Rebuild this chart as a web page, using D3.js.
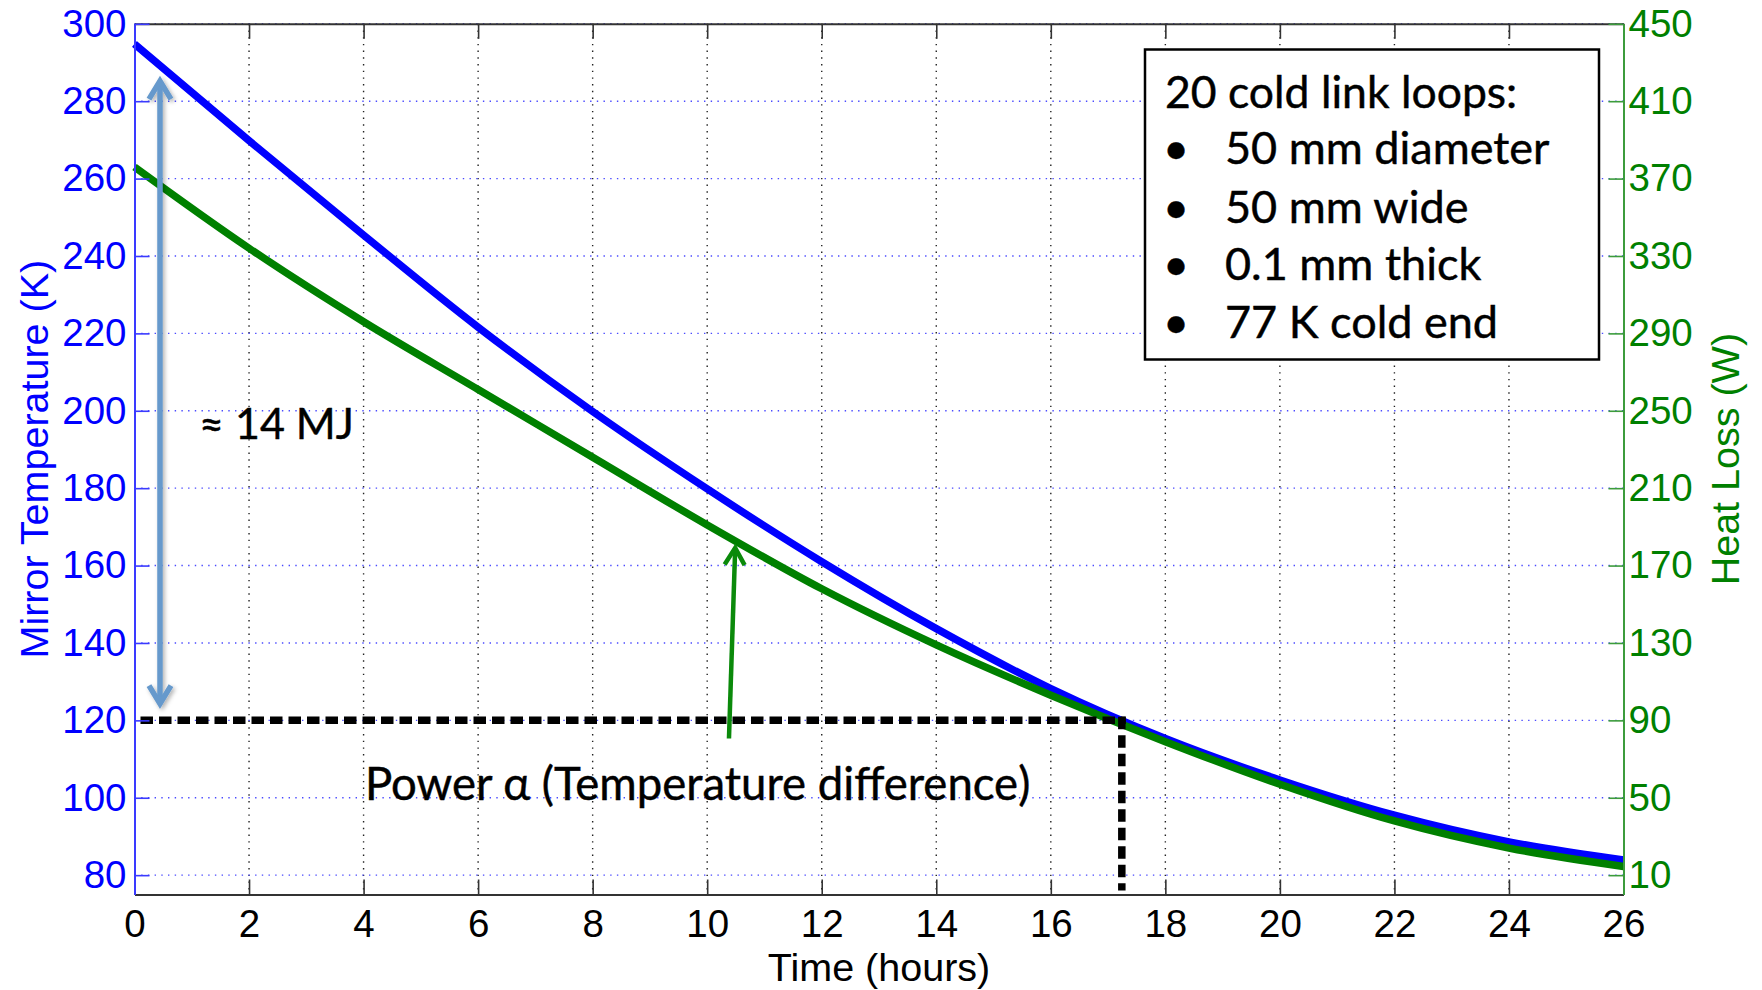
<!DOCTYPE html>
<html><head><meta charset="utf-8">
<script src="https://cdn.jsdelivr.net/npm/d3@7"></script>
<style>body{margin:0;background:#fff;} svg{display:block}</style>
</head><body>
<svg id="chart" width="1762" height="990"></svg>
<script>
// ---- data ----
const hours      = [0, 2, 4, 6, 8, 10, 12, 14, 16, 18, 20, 22, 24, 26];
const mirrorTemp = [294.8, 269.8, 245.4, 221.6, 199.8, 179.8, 161.0, 143.7, 128.2, 115.3, 104.6, 95.5, 88.6, 83.9];
const heatLoss   = [376, 334, 296, 261, 226, 191, 158, 129, 103, 79, 57, 38, 24, 14.5];
const xTicks     = [0, 2, 4, 6, 8, 10, 12, 14, 16, 18, 20, 22, 24, 26];
const leftTicks  = [80, 100, 120, 140, 160, 180, 200, 220, 240, 260, 280, 300];
const rightTicks = [10, 50, 90, 130, 170, 210, 250, 290, 330, 370, 410, 450];
const legendLines = ["20 cold link loops:", "50 mm diameter", "50 mm wide", "0.1 mm thick", "77 K cold end"];
const thresholdTime = 17.24, thresholdTemp = 120;
const energyLabel = "\u2248 14 MJ";
const powerLabel = "Power \u03b1 (Temperature difference)";

// ---- layout ----
const svg = d3.select("#chart");
const X0 = 134.5, X1 = 1623.5, Y0 = 23.8, Y1 = 894.5;
const x  = d3.scaleLinear([0, 26], [X0, X1]);
const yL = d3.scaleLinear([75, 300], [Y1, Y0]);
const yR = d3.scaleLinear([0, 450], [Y1, Y0]);

const BLUE = "#0000ff", GREEN = "#008000";
const axisFont = "'Liberation Sans', Arial, Helvetica, sans-serif";
const noteFont = "Lato, 'Open Sans', sans-serif";

const defs = svg.append("defs");
const f = defs.append("filter").attr("id", "shadow").attr("x", "-50%").attr("y", "-10%").attr("width", "200%").attr("height", "120%");
f.append("feDropShadow").attr("dx", 2).attr("dy", 2).attr("stdDeviation", 2).attr("flood-color", "#000").attr("flood-opacity", 0.3);

// grid
const grid = svg.append("g");
grid.selectAll("line.v").data(xTicks.filter(d => d > 0 && d < 26)).join("line")
  .attr("x1", d => x(d)).attr("x2", d => x(d)).attr("y1", Y0).attr("y2", Y1)
  .attr("stroke", "#222").attr("stroke-width", 1.4).attr("stroke-dasharray", "1.4,5.3");
grid.selectAll("line.h").data(leftTicks).join("line")
  .attr("x1", X0).attr("x2", X1).attr("y1", d => yL(d)).attr("y2", d => yL(d))
  .attr("stroke", "#4a4aff").attr("stroke-width", 1.4).attr("stroke-dasharray", "1.4,5.3");

// curves
const lineT = d3.line().x((d, i) => x(hours[i])).y(d => yL(d)).curve(d3.curveMonotoneX);
const lineQ = d3.line().x((d, i) => x(hours[i])).y(d => yR(d)).curve(d3.curveMonotoneX);
svg.append("path").attr("d", lineT(mirrorTemp)).attr("fill", "none").attr("stroke", BLUE).attr("stroke-width", 7.5);
svg.append("path").attr("d", lineQ(heatLoss)).attr("fill", "none").attr("stroke", GREEN).attr("stroke-width", 7.5);

// dashed threshold lines
svg.append("line").attr("x1", x(0) + 6).attr("x2", x(thresholdTime) + 4)
  .attr("y1", yL(thresholdTemp)).attr("y2", yL(thresholdTemp))
  .attr("stroke", "#000").attr("stroke-width", 7.5).attr("stroke-dasharray", "12.5,6");
svg.append("line").attr("x1", x(thresholdTime)).attr("x2", x(thresholdTime))
  .attr("y1", yL(thresholdTemp) - 3.7).attr("y2", Y1 - 4)
  .attr("stroke", "#000").attr("stroke-width", 7.5).attr("stroke-dasharray", "12.5,6");

// axes
function styleAxis(g, color, lineColor) {
  g.select(".domain").attr("stroke", lineColor).attr("stroke-width", 2);
  g.selectAll(".tick line").attr("stroke", lineColor).attr("stroke-width", 1.6);
  g.selectAll(".tick text").attr("fill", color).attr("font-size", 38.5).attr("font-family", axisFont);
}
svg.append("g").attr("transform", `translate(0,${Y1})`)
  .call(d3.axisBottom(x).tickValues(xTicks).tickSize(-15).tickSizeOuter(0).tickPadding(15).tickFormat(d3.format("d")))
  .call(g => styleAxis(g, "#000", "#333"));
svg.append("g").attr("transform", `translate(0,${Y0})`)
  .call(d3.axisTop(x).tickValues(xTicks).tickSize(-15).tickSizeOuter(0).tickFormat(""))
  .call(g => styleAxis(g, "#000", "#333"));
svg.append("g").attr("transform", `translate(${X0},0)`)
  .call(d3.axisLeft(yL).tickValues(leftTicks).tickSize(-15).tickSizeOuter(0).tickPadding(8))
  .call(g => styleAxis(g, BLUE, "#3a3aff"));
svg.append("g").attr("transform", `translate(${X1},0)`)
  .call(d3.axisRight(yR).tickValues(rightTicks).tickSize(-15).tickSizeOuter(0).tickPadding(5))
  .call(g => styleAxis(g, GREEN, "#3c9c3c"));

// axis titles
svg.append("text").attr("x", (X0 + X1) / 2).attr("y", 981).attr("text-anchor", "middle")
  .attr("font-family", axisFont).attr("font-size", 39.5).attr("fill", "#000").text("Time (hours)");
svg.append("text").attr("transform", `translate(48,${(Y0 + Y1) / 2}) rotate(-90)`).attr("text-anchor", "middle")
  .attr("font-family", axisFont).attr("font-size", 39.5).attr("fill", BLUE).text("Mirror Temperature (K)");
svg.append("text").attr("transform", `translate(1739,${(Y0 + Y1) / 2}) rotate(-90)`).attr("text-anchor", "middle")
  .attr("font-family", axisFont).attr("font-size", 39.5).attr("fill", GREEN).text("Heat Loss (W)");

// energy arrow (double headed)
const ARROW_BLUE = "#6699cc";
const ax = x(0.445), aTop = yL(285.7), aBot = yL(123.8);
const ga = svg.append("g").attr("filter", "url(#shadow)").attr("stroke", ARROW_BLUE).attr("fill", "none")
  .attr("stroke-width", 5.5).attr("stroke-linejoin", "miter");
ga.append("line").attr("x1", ax).attr("x2", ax).attr("y1", aTop + 2).attr("y2", aBot - 2);
ga.append("polyline").attr("points", `${ax - 11},${aTop + 20} ${ax},${aTop + 2} ${ax + 11},${aTop + 20}`);
ga.append("polyline").attr("points", `${ax - 11},${aBot - 20} ${ax},${aBot - 2} ${ax + 11},${aBot - 20}`);

// power arrow
const pTail = [x(10.38), yR(80.6)], pTip = [x(10.49), yR(180.2)];
const dx = pTip[0] - pTail[0], dy = pTip[1] - pTail[1], L = Math.hypot(dx, dy);
const ux = dx / L, uy = dy / L, px = -uy, py = ux;
const gp = svg.append("g").attr("stroke", "#0b8a0b").attr("fill", "none").attr("stroke-width", 4.5);
gp.append("line").attr("x1", pTail[0]).attr("y1", pTail[1]).attr("x2", pTip[0] - ux * 2).attr("y2", pTip[1] - uy * 2);
gp.append("polyline").attr("points",
  `${pTip[0] - ux * 19 + px * 10},${pTip[1] - uy * 19 + py * 10} ${pTip[0] - ux * 2},${pTip[1] - uy * 2} ${pTip[0] - ux * 19 - px * 10},${pTip[1] - uy * 19 - py * 10}`);

// annotations
const noteStyle = t => t.attr("font-family", noteFont).attr("fill", "#000")
  .attr("stroke", "#000").attr("stroke-width", 0.45);
svg.append("text").attr("x", 199).attr("y", 439).attr("font-size", 43).call(noteStyle).text(energyLabel);
svg.append("text").attr("x", 365).attr("y", 800).attr("font-size", 45.5).call(noteStyle).text(powerLabel);

// legend box
const lg = svg.append("g");
lg.append("rect").attr("x", 1145).attr("y", 49.5).attr("width", 454).attr("height", 310)
  .attr("fill", "#fff").attr("stroke", "#000").attr("stroke-width", 2.5);
const baselines = [108, 164, 222.5, 280, 338];
lg.append("text").attr("x", 1165).attr("y", baselines[0]).attr("font-size", 44.5).call(noteStyle).text(legendLines[0]);
legendLines.slice(1).forEach((t, i) => {
  lg.append("text").attr("x", 1176).attr("y", baselines[i + 1]).attr("text-anchor", "middle")
    .attr("font-size", 45).call(noteStyle).text("\u2022");
  lg.append("text").attr("x", 1225).attr("y", baselines[i + 1]).attr("font-size", 45).call(noteStyle).text(t);
});
</script>
</body></html>
